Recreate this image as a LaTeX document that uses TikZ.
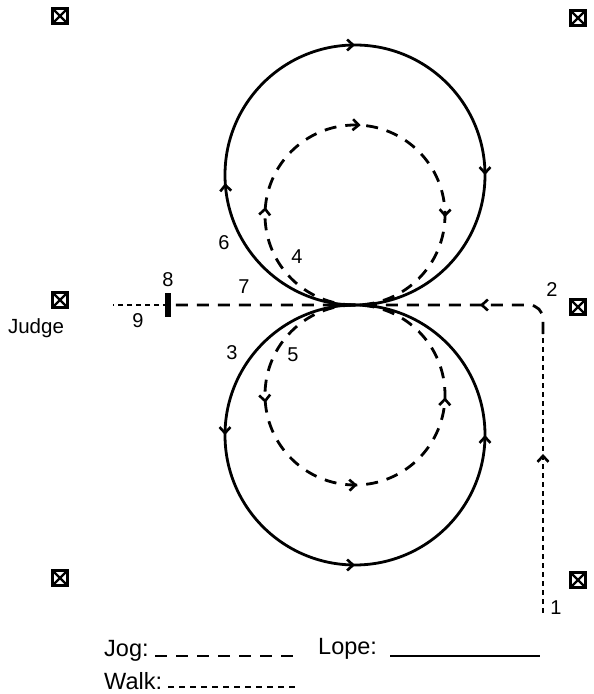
\documentclass[tikz,border=0pt]{standalone}
\usepackage{fontspec}
\setmainfont{Liberation Sans}
\usetikzlibrary{arrows.meta,decorations.markings}
\tikzset{
  >={Straight Barb[length=6pt,width=11pt]},
  lope/.style={line width=2.8pt},
  jog/.style={line width=2.8pt, dash pattern=on 12pt off 9pt},
  walk/.style={line width=2.8pt, dash pattern=on 5pt off 4pt},
  marr/.style={postaction={decorate, decoration={markings, mark=at position #1 with {\arrow[line width=2.6pt]{>}}}}},
  marker/.style={draw, line width=3pt, minimum size=15pt, inner sep=0pt,
    path picture={\draw[line width=2.2pt] (path picture bounding box.north west) -- (path picture bounding box.south east)
      (path picture bounding box.north east) -- (path picture bounding box.south west);}},
  lbl/.style={font=\fontsize{20}{20}\selectfont, inner sep=0pt},
  leg/.style={font=\fontsize{23.5}{23.5}\selectfont, inner sep=0pt, anchor=west},
}
\begin{document}
\begin{tikzpicture}[x=1pt,y=1pt]
\fill[white] (0,0) rectangle (594,694);
\useasboundingbox (0,0) rectangle (594,694);
% markers
\node[marker] (m1) at (60,678) {};
\node[marker] (m2) at (578,676) {};
\node[marker] (m3) at (60,394) {};
\node[marker] (m4) at (578,387) {};
\node[marker] (m5) at (60,116) {};
\node[marker] (m6) at (578,114) {};
\node[lbl, font=\fontsize{20.5}{20.5}\selectfont] (judge) at (36,366) {Judge};
% key points
\coordinate (T) at (355,389);
\coordinate (P1) at (543,81);
\coordinate (Pc) at (543,360);
\coordinate (K) at (543,389);
\coordinate (P8) at (168,389);
\coordinate (P9) at (113,389);
\coordinate (B1) at (168,377);
\coordinate (B2) at (168,401);
% lope circles
\draw[lope, marr=0.24, marr=0.5, marr=0.75] (T) arc[start angle=270, end angle=-90, radius=130];
\draw[lope, marr=0.25, marr=0.5, marr=0.75] (T) arc[start angle=90, end angle=450, radius=130];
% jog circles
\draw[jog, marr=0.264, marr=0.51, marr=0.754] (T) arc[start angle=270, end angle=-90, radius=90];
\draw[jog, marr=0.264, marr=0.504, marr=0.746] (T) arc[start angle=90, end angle=450, radius=90];
% entry and exit
\draw[walk, marr=0.57] (P1) -- (Pc);
\draw[jog, rounded corners=14pt, marr=86pt] (Pc) -- (K) -- (P8);
\draw[walk] (P8) -- (P9);
\draw[line width=5.5pt] (B1) -- (B2);
% labels
\node[lbl] (l1) at (556,86) {1};
\node[lbl] (l2) at (552,404) {2};
\node[lbl] (l3) at (232,341) {3};
\node[lbl] (l4) at (297,437) {4};
\node[lbl] (l5) at (293,339) {5};
\node[lbl] (l6) at (224,451) {6};
\node[lbl] (l7) at (244,407) {7};
\node[lbl] (l8) at (168,414) {8};
\node[lbl] (l9) at (138,373) {9};
% legend
\node[leg] (jogt) at (104,43) {Jog:};
\node[leg] (lopet) at (318,45) {Lope:};
\node[leg] (walkt) at (104,13) {Walk:};
\coordinate (J1) at (155,38);
\coordinate (J2) at (298,38);
\coordinate (L1) at (390,38);
\coordinate (L2) at (540,38);
\coordinate (W1) at (168,7);
\coordinate (W2) at (298,7);
\draw[line width=2.8pt, dash pattern=on 12pt off 9pt] (J1) -- (J2);
\draw[lope] (L1) -- (L2);
\draw[line width=2.8pt, dash pattern=on 6pt off 5pt] (W1) -- (W2);
\end{tikzpicture}
\end{document}
